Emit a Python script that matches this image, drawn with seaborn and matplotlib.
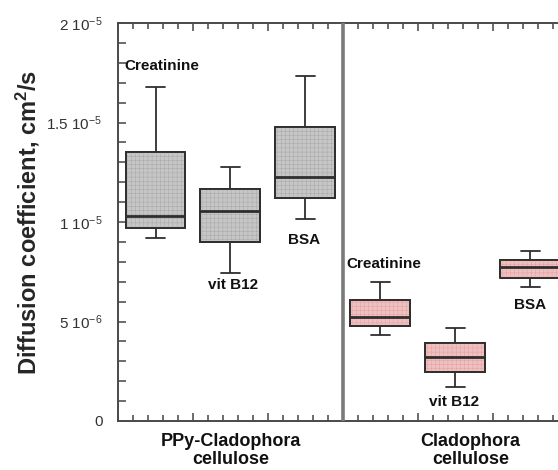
import numpy as np
import pandas as pd
import matplotlib
matplotlib.use("Agg")
import matplotlib.pyplot as plt
import seaborn as sns
from matplotlib.patches import PathPatch
from matplotlib.ticker import MultipleLocator, FuncFormatter

# ---- data (five-number summaries: min, Q1, median, Q3, max), units of 1e-6 cm^2/s
groups = ["PPy-Cladophora\ncellulose", "Cladophora\ncellulose"]
solutes = ["Creatinine", "vit B12", "BSA"]
ppy_creatinine = [9.22, 9.72, 10.28, 13.50, 16.77]
ppy_vitb12 = [7.43, 9.00, 10.55, 11.67, 12.75]
ppy_bsa = [10.13, 11.22, 12.25, 14.77, 17.33]
clad_creatinine = [4.32, 4.78, 5.25, 6.10, 6.97]
clad_vitb12 = [1.72, 2.47, 3.22, 3.93, 4.68]
clad_bsa = [6.75, 7.18, 7.72, 8.10, 8.55]
slots = [1, 2, 3, 4, 5, 6]

samples = [ppy_creatinine, ppy_vitb12, ppy_bsa,
           clad_creatinine, clad_vitb12, clad_bsa]
rows = []
for i, vals in enumerate(samples):
    grp = groups[i // 3]
    for v in vals:
        rows.append({"x": slots[i] - 0.5, "group": grp,
                     "solute": solutes[i % 3], "D": v * 1e-6})
df = pd.DataFrame(rows)

sns.set_theme(style="ticks")
plt.rcParams["font.family"] = ["Liberation Sans", "DejaVu Sans"]
plt.rcParams["mathtext.default"] = "regular"
plt.rcParams["hatch.linewidth"] = 0.35

W, H = 558, 470
fig = plt.figure(figsize=(W / 100, H / 100), dpi=100)
ax = fig.add_axes([118 / W, (H - 421) / H, 450 / W, 398 / H])

face = {groups[0]: "#c6c6c6", groups[1]: "#f6b9b9"}
hatchc = {groups[0]: "#a9a9a9", groups[1]: "#e99e9e"}
edge = "#2e2e2e"

sns.boxplot(data=df, x="x", y="D", hue="group", palette=face,
            native_scale=True, dodge=False, whis=(0, 100), width=0.8,
            linecolor=edge, linewidth=1.3, fliersize=0,
            medianprops=dict(linewidth=2.0, color=edge, zorder=6),
            capwidths=0.25, legend=False, ax=ax)

# hatch texture overlay on the boxes
for p in list(ax.patches):
    if not isinstance(p, PathPatch):
        continue
    fc = p.get_facecolor()
    key = groups[0] if fc[0] < 0.9 else groups[1]
    z = p.get_zorder()
    ax.add_patch(PathPatch(p.get_path(), transform=p.get_transform(),
                           facecolor="none", edgecolor=hatchc[key],
                           hatch="++++", lw=0, zorder=z + 0.01))
    ax.add_patch(PathPatch(p.get_path(), transform=p.get_transform(),
                           facecolor="none", edgecolor=edge, lw=1.3,
                           zorder=z + 0.02))

ax.axvline(3, color="#7a7a7a", lw=2.6, zorder=7)

ax.set_xlim(0, 6)
ax.set_ylim(0, 2e-5)
ax.xaxis.set_major_locator(MultipleLocator(1))
ax.xaxis.set_minor_locator(MultipleLocator(0.2))
ax.yaxis.set_major_locator(MultipleLocator(5e-6))
ax.yaxis.set_minor_locator(MultipleLocator(1e-6))


def fmt(v, pos):
    if v < 1e-12:
        return "0" if abs(v) < 1e-12 else ""
    e = int(np.floor(np.log10(v) + 1e-9))
    m = v / 10 ** e
    return f"{m:g} 10$^{{{e}}}$"


ax.yaxis.set_major_formatter(FuncFormatter(fmt))
ax.tick_params(which="both", direction="in", top=True, right=True,
               bottom=True, left=True, labelbottom=False, colors="#444444",
               labelcolor="#333333", width=1.1)
ax.tick_params(axis="y", which="major", length=6, pad=11, labelsize=11)
ax.tick_params(axis="y", which="minor", length=5.5)
ax.tick_params(axis="x", which="major", length=6)
ax.tick_params(axis="x", which="minor", length=4)
for s in ax.spines.values():
    s.set_color("#4a4a4a")
    s.set_linewidth(1.4)

ax.set_xlabel("")
ax.set_ylabel("Diffusion coefficient, cm$^2$/s", fontsize=17,
              fontweight="bold", labelpad=3)

ann = dict(fontsize=11, fontweight="bold", color="#111111")
ax.text(0.09, 17.85e-6, solutes[0], ha="left", va="center", **ann)
ax.text(1.53, 6.85e-6, solutes[1], ha="center", va="center", **ann)
ax.text(2.48, 9.1e-6, solutes[2], ha="center", va="center", **ann)
ax.text(3.05, 7.9e-6, solutes[0], ha="left", va="center", **ann)
ax.text(4.48, 0.95e-6, solutes[1], ha="center", va="center", **ann)
ax.text(5.49, 5.85e-6, solutes[2], ha="center", va="center", **ann)

tr = ax.get_xaxis_transform()
ax.text(1.5, -0.03, groups[0], transform=tr, ha="center", va="top",
        fontsize=13, fontweight="bold", linespacing=1.1, color="#111111")
ax.text(4.7, -0.03, groups[1], transform=tr, ha="center", va="top",
        fontsize=13, fontweight="bold", linespacing=1.1, color="#111111")

fig.savefig("out.png", dpi=100)
